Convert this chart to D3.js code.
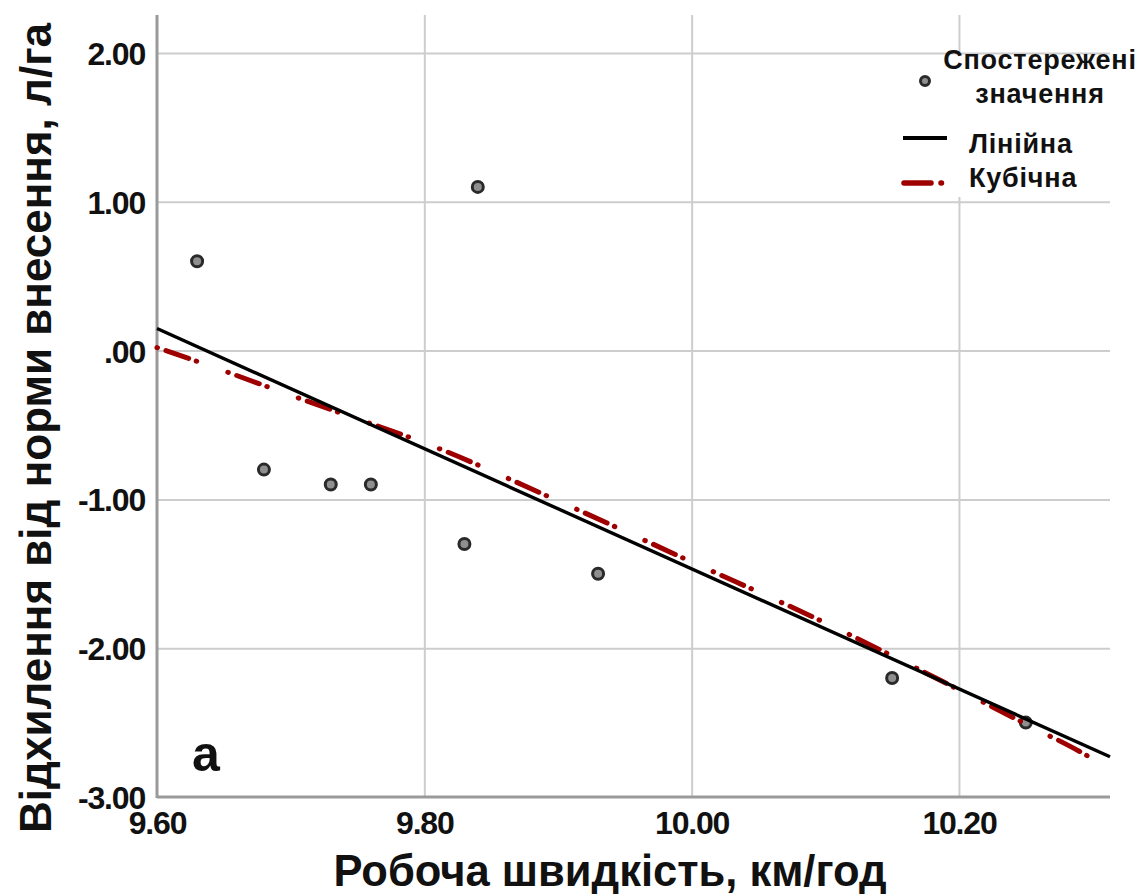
<!DOCTYPE html>
<html>
<head>
<meta charset="utf-8">
<script src="https://cdn.jsdelivr.net/npm/d3@7"></script>
<style>
  html, body { margin: 0; padding: 0; background: #fff; }
  svg { display: block; font-family: "Liberation Sans", Arial, sans-serif; }
</style>
</head>
<body>
<svg id="chart" width="1148" height="894"></svg>
<script>
// ---- data ----
const speed     = [9.63, 9.68, 9.73, 9.76, 9.83, 9.84, 9.93, 10.15, 10.25];
const deviation = [0.60, -0.80, -0.90, -0.90, -1.30, 1.10, -1.50, -2.20, -2.50];

const linearX = [9.60, 10.313];
const linearY = [0.148, -2.73];

const cubicX = [9.60, 9.645, 9.70, 9.75, 9.80, 9.90, 10.00, 10.10, 10.20, 10.25, 10.30, 10.313];
const cubicY = [0.02, -0.12, -0.30, -0.46, -0.62, -1.01, -1.42, -1.83, -2.28, -2.51, -2.745, -2.82];

const xTicks = [9.60, 9.80, 10.00, 10.20];
const xTickLabels = ["9.60", "9.80", "10.00", "10.20"];
const yTicks = [2, 1, 0, -1, -2, -3];
const yTickLabels = ["2.00", "1.00", ".00", "-1.00", "-2.00", "-3.00"];

const xTitle = "Робоча швидкість, км/год";
const yTitle = "Відхилення від норми внесення, л/га";
const legendLabels = ["Спостережені", "значення", "Лінійна", "Кубічна"];
const panelLabel = "а";

// ---- layout ----
const svg = d3.select("#chart");
const L = 157, R = 1110, T = 15, B = 797;
const x = d3.scaleLinear().domain([9.60, 10.313]).range([L, R]);
const y = d3.scaleLinear().domain([-3, 2.255]).range([B, T]);

const gridColor = "#cdcdcd";
const axisColor = "#9a9a9a";
const red = "#9e0000";

// gridlines
const gy = svg.append("g").attr("transform", `translate(${L},0)`)
  .call(d3.axisLeft(y).tickValues(yTicks.filter(v => v > -3)).tickSize(-(R - L)).tickFormat(""));
gy.select(".domain").remove();
gy.selectAll("line").attr("stroke", gridColor).attr("stroke-width", 2);

const gx = svg.append("g").attr("transform", `translate(0,${B})`)
  .call(d3.axisBottom(x).tickValues(xTicks.filter(v => v > 9.6)).tickSize(-(B - T)).tickFormat(""));
gx.select(".domain").remove();
gx.selectAll("line").attr("stroke", gridColor).attr("stroke-width", 2);

// legend background box (hides gridlines)
svg.append("rect").attr("x", 958).attr("y", 55).attr("width", 1148 - 958).attr("height", 142)
  .attr("fill", "#fff");

// axis lines
svg.append("line").attr("x1", L).attr("x2", L).attr("y1", T).attr("y2", B + 1)
  .attr("stroke", axisColor).attr("stroke-width", 3);
svg.append("line").attr("x1", L).attr("x2", R).attr("y1", B).attr("y2", B)
  .attr("stroke", axisColor).attr("stroke-width", 3);

// tick labels
const ya = svg.append("g").attr("transform", `translate(${L},0)`)
  .call(d3.axisLeft(y).tickValues(yTicks).tickSize(0).tickPadding(12)
    .tickFormat((d, i) => yTickLabels[i]));
ya.select(".domain").remove();
ya.selectAll("text").attr("font-size", 32).attr("font-weight", "bold").attr("fill", "#111")
  .attr("letter-spacing", "-1.2px").attr("font-family", "Liberation Sans, Arial, sans-serif")
  .attr("dy", "0.36em");

const xa = svg.append("g").attr("transform", `translate(0,${B})`)
  .call(d3.axisBottom(x).tickValues(xTicks).tickSize(0).tickPadding(14)
    .tickFormat((d, i) => xTickLabels[i]));
xa.select(".domain").remove();
xa.selectAll("text").attr("font-size", 32).attr("font-weight", "bold").attr("fill", "#111")
  .attr("letter-spacing", "-1.2px").attr("font-family", "Liberation Sans, Arial, sans-serif");

// points
svg.append("g").selectAll("circle").data(speed).join("circle")
  .attr("cx", (d) => x(d)).attr("cy", (d, i) => y(deviation[i])).attr("r", 5.5)
  .attr("fill", "#8f8f8f").attr("stroke", "#2a2a2a").attr("stroke-width", 3);

// cubic fit (dash-dot)
const cubicData = cubicX.map((v, i) => [v, cubicY[i]]);
svg.append("path").datum(cubicData)
  .attr("d", d3.line().x(d => x(d[0])).y(d => y(d[1])).curve(d3.curveMonotoneX))
  .attr("fill", "none").attr("stroke", red).attr("stroke-width", 5)
  .attr("stroke-linecap", "round").attr("stroke-dasharray", "0.5,9,24,8,0.5,33");

// linear fit
const linData = linearX.map((v, i) => [v, linearY[i]]);
svg.append("path").datum(linData)
  .attr("d", d3.line().x(d => x(d[0])).y(d => y(d[1])))
  .attr("fill", "none").attr("stroke", "#000").attr("stroke-width", 3.4);

// panel label
svg.append("text").attr("x", 192).attr("y", 771).text(panelLabel)
  .attr("font-size", 50).attr("font-weight", "bold").attr("fill", "#111");

// axis titles
svg.append("text").attr("x", 610).attr("y", 886).attr("text-anchor", "middle")
  .attr("font-size", 43.5).attr("font-weight", "bold").attr("fill", "#111").text(xTitle);
svg.append("text").attr("transform", "translate(51,428) rotate(-90)").attr("text-anchor", "middle")
  .attr("font-size", 44).attr("font-weight", "bold").attr("fill", "#111").text(yTitle);

// legend
const lg = svg.append("g");
lg.append("circle").attr("cx", 925).attr("cy", 81).attr("r", 4.5)
  .attr("fill", "#8f8f8f").attr("stroke", "#2a2a2a").attr("stroke-width", 3);
lg.append("text").attr("x", 1040).attr("y", 69).attr("text-anchor", "middle").text(legendLabels[0]);
lg.append("text").attr("x", 1040).attr("y", 103).attr("text-anchor", "middle").text(legendLabels[1]);
lg.append("line").attr("x1", 903).attr("x2", 947).attr("y1", 138).attr("y2", 138)
  .attr("stroke", "#000").attr("stroke-width", 4);
lg.append("text").attr("x", 969).attr("y", 153).text(legendLabels[2]);
lg.append("line").attr("x1", 904).attr("x2", 946).attr("y1", 183).attr("y2", 183)
  .attr("stroke", red).attr("stroke-width", 5.5).attr("stroke-linecap", "round")
  .attr("stroke-dasharray", "27,10,0.5,40");
lg.append("text").attr("x", 969).attr("y", 187).text(legendLabels[3]);
lg.selectAll("text").attr("font-size", 27).attr("font-weight", "bold").attr("fill", "#111")
  .attr("letter-spacing", "0.8px");
</script>
</body>
</html>
